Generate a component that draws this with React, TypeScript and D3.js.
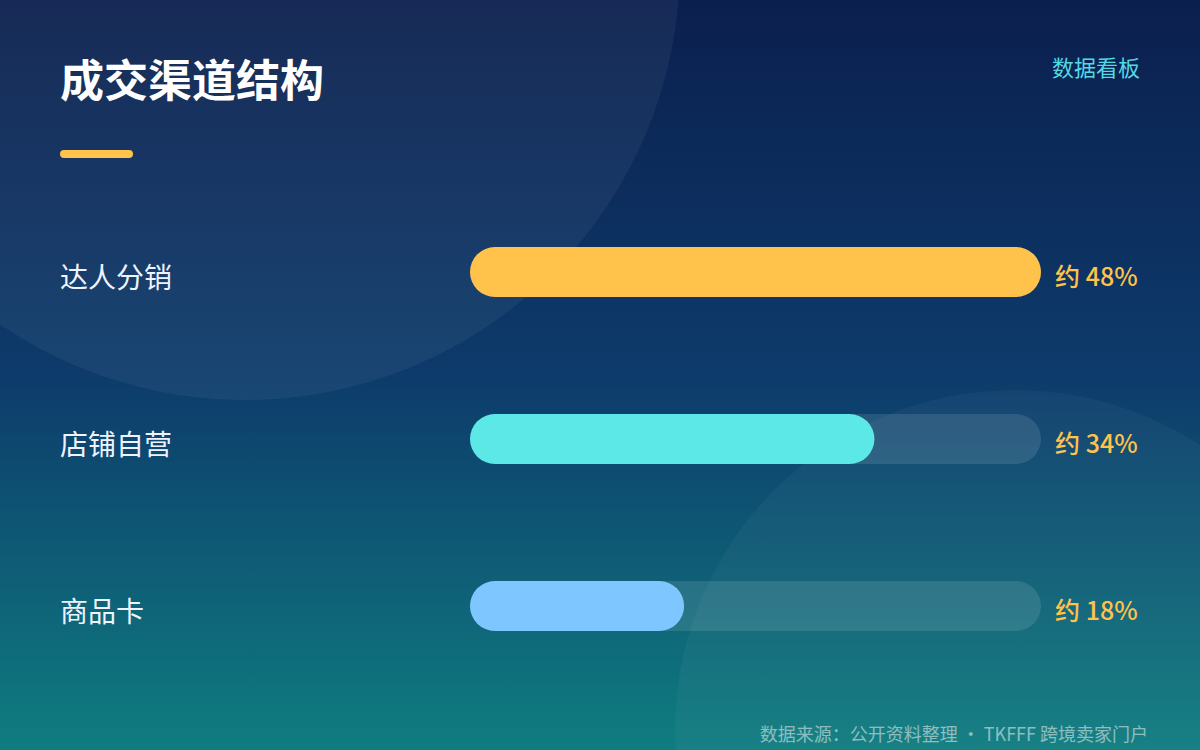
import React from "react";
import * as d3 from "d3";

const categories = ["达人分销", "店铺自营", "商品卡"];
const shares = [48, 34, 18];
const barColors = ["#FFC24B", "#5CE8E6", "#7DC6FF"];
const valueLabels = ["约 48%", "约 34%", "约 18%"];

const W = 1200;
const H = 750;
const FONT = "'Noto Sans CJK SC', 'Noto Sans', sans-serif";

export default function App() {
  const x = d3.scaleLinear().domain([0, d3.max(shares) as number]).range([470, 1041]);
  const y = d3.scalePoint<string>().domain(categories).range([272, 606]);
  const barH = 50;

  return (
    <div style={{ position: "absolute", left: 0, top: 0 }}>
      <svg width={W} height={H} style={{ display: "block" }}>
        <defs>
          <linearGradient id="bg" x1="0" y1="0" x2="0" y2="1">
            <stop offset="0" stopColor="#0b1f4e" />
            <stop offset="0.5" stopColor="#0d3b6b" />
            <stop offset="1" stopColor="#0f7d80" />
          </linearGradient>
          <clipPath id="clip">
            <rect x={0} y={0} width={W} height={H} />
          </clipPath>
        </defs>
        <rect x={0} y={0} width={W} height={H} fill="url(#bg)" />
        <g clipPath="url(#clip)">
          <circle cx={245} cy={-35} r={435} fill="#ffffff" fillOpacity={0.05} />
          <circle cx={1015} cy={730} r={340} fill="#ffffff" fillOpacity={0.035} />
        </g>

        <text x={60} y={97} fill="#ffffff" fontFamily={FONT} fontSize={44} fontWeight={700}>
          成交渠道结构
        </text>
        <rect x={60} y={150} width={73} height={8} rx={4} fill="#FFC24B" />
        <text x={1140} y={76} fill="#52D9E2" fontFamily={FONT} fontSize={22} textAnchor="end">
          数据看板
        </text>

        {categories.map((c, i) => {
          const cy = y(c) as number;
          return (
            <g key={c}>
              <text x={60} y={cy + 16} fill="#eef4ff" fontFamily={FONT} fontSize={28}>
                {c}
              </text>
              <rect
                x={x(0)}
                y={cy - barH / 2}
                width={x(d3.max(shares) as number) - x(0)}
                height={barH}
                rx={barH / 2}
                fill="#ffffff"
                fillOpacity={0.11}
              />
              <rect
                x={x(0)}
                y={cy - barH / 2}
                width={x(shares[i]) - x(0)}
                height={barH}
                rx={barH / 2}
                fill={barColors[i]}
              />
              <text x={1055} y={cy + 14} fill="#FFC24B" fontFamily={FONT} fontSize={25} fontWeight={500}>
                {valueLabels[i]}
              </text>
            </g>
          );
        })}

        <text x={1148} y={741} fill="#ffffff" fillOpacity={0.5} fontFamily={FONT} fontSize={18} textAnchor="end">
          数据来源：公开资料整理 · TKFFF 跨境卖家门户
        </text>
      </svg>
    </div>
  );
}
